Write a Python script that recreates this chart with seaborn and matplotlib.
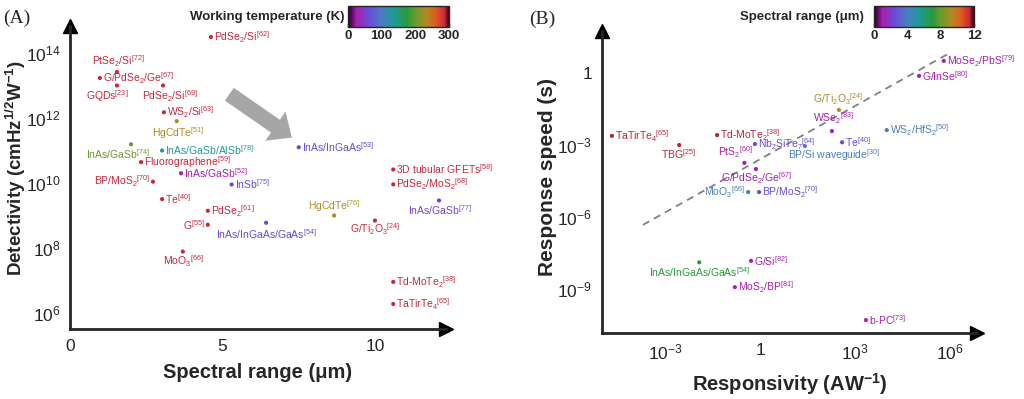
import matplotlib
matplotlib.use("Agg")
import numpy as np
import pandas as pd
import seaborn as sns
import matplotlib.pyplot as plt
from matplotlib.colors import LinearSegmentedColormap, Normalize
from matplotlib.cm import ScalarMappable
from matplotlib.ticker import FixedLocator, FuncFormatter, NullFormatter

# ---- (A) detectivity vs spectral range, colour = working temperature (K)
a_labels = [
    r"PdSe$_2$/Si$^{[62]}$", r"PtSe$_2$/Si$^{[72]}$", r"G/PdSe$_2$/Ge$^{[67]}$",
    r"GQDs$^{[23]}$", r"PdSe$_2$/Si$^{[69]}$", r"WS$_2$/Si$^{[63]}$",
    r"HgCdTe$^{[51]}$", r"InAs/GaSb$^{[74]}$", r"InAs/GaSb/AlSb$^{[78]}$",
    r"Fluorographene$^{[59]}$", r"InAs/GaSb$^{[52]}$", r"BP/MoS$_2$$^{[70]}$",
    r"InSb$^{[75]}$", r"Te$^{[40]}$", r"PdSe$_2$$^{[61]}$", r"G$^{[55]}$",
    r"InAs/InGaAs/GaAs$^{[54]}$", r"MoO$_3$$^{[66]}$", r"HgCdTe$^{[76]}$",
    r"G/Ti$_2$O$_3$$^{[24]}$", r"InAs/GaSb$^{[77]}$", r"3D tubular GFETs$^{[58]}$",
    r"PdSe$_2$/MoS$_2$$^{[68]}$", r"InAs/InGaAs$^{[53]}$", r"Td-MoTe$_2$$^{[38]}$",
    r"TaTirTe$_4$$^{[65]}$",
]
a_spectral = [4.62, 1.54, 0.98, 1.54, 3.05, 3.08, 3.5, 2.0, 3.02, 2.33, 3.64, 2.72,
              5.3, 3.02, 4.52, 4.52, 6.43, 3.7, 8.66, 10.0, 12.1, 10.6, 10.6, 7.5,
              10.6, 10.6]
a_detectivity = [3.1e14, 2.6e13, 1.7e13, 1.0e13, 1.0e13, 1.5e12, 8.0e11, 1.55e11,
                 1.0e11, 4.4e10, 2.0e10, 1.1e10, 9.0e9, 3.2e9, 1.4e9, 5.2e8, 6.0e8,
                 7.8e7, 1.0e9, 7.0e8, 2.9e9, 2.6e10, 9.1e9, 1.26e11, 9.1e6, 1.9e6]
a_temperature = [287, 287, 287, 287, 287, 287, 232, 200, 135, 287, 25, 287, 60, 287,
                 287, 287, 60, 287, 232, 287, 55, 287, 287, 60, 287, 287]

# ---- (B) response speed vs responsivity, colour = spectral range (um)
b_labels = [
    r"TaTirTe$_4$$^{[65]}$", r"TBG$^{[25]}$", r"Td-MoTe$_2$$^{[38]}$", r"PtS$_2$$^{[60]}$",
    r"Nb$_2$SiTe$_7$$^{[64]}$", r"G/PdSe$_2$/Ge$^{[67]}$", r"MoO$_3$$^{[66]}$",
    r"BP/MoS$_2$$^{[70]}$", r"BP/Si waveguide$^{[30]}$", r"Te$^{[40]}$", r"WSe$_2$$^{[83]}$",
    r"G/Ti$_2$O$_3$$^{[24]}$", r"WS$_2$/HfS$_2$$^{[50]}$", r"G/InSe$^{[80]}$",
    r"MoSe$_2$/PbS$^{[79]}$", r"InAs/InGaAs/GaAs$^{[54]}$", r"G/Si$^{[82]}$",
    r"MoS$_2$/BP$^{[81]}$", r"b-PC$^{[73]}$",
]
b_responsivity = [2.1e-5, 2.8e-3, 4.4e-2, 0.32, 0.69, 0.74, 0.42, 0.93, 26, 390, 186,
                  310, 1.0e4, 1.05e5, 6.3e5, 1.2e-2, 0.52, 0.16, 2.2e3]
b_speed = [2.4e-3, 1.0e-3, 2.6e-3, 1.8e-4, 1.1e-3, 1.0e-4, 1.1e-5, 1.1e-5, 9.1e-4,
           1.3e-3, 3.8e-3, 2.9e-2, 4.2e-3, 0.76, 3.2, 1.3e-8, 1.5e-8, 1.2e-9, 5.1e-11]
b_spectral = [11.5, 11.5, 11.5, 1.0, 2.4, 1.0, 4.0, 2.4, 4.0, 2.4, 1.0, 9.3, 4.0, 1.0,
              1.0, 7.0, 1.0, 1.0, 1.0]

trend_resp = [2.0e-4, 1.1e6]
trend_speed = [4.7e-7, 7.5]

# label placement (pixel offset from the dot, horizontal alignment)
R, L = (3, 0, "left"), (-3, 0, "right")
a_place = [R, (1, 11, "center"), R, (-10, -11, "center"), (7, -11, "center"), R,
           (1, -12, "center"), (-13, -10, "center"), R, R, R, L, R, R, R, L,
           (0, -11, "center"), (1, -10, "center"), (0, 9, "center"),
           (0, -9, "center"), (1, -10, "center"), R, R, R, R, R]
b_place = [R, (-1, -9, "center"), R, (-9, 11, "center"), R, (1, -9, "center"), L, R,
           (29, -9, "center"), R, (1, 13, "center"), (-1, 11, "center"), R, R, R,
           (0, -10, "center"), R, R, R]

sns.set_style("white")
plt.rcParams["font.family"] = ["Liberation Sans", "DejaVu Sans"]
plt.rcParams["mathtext.default"] = "regular"

cmap = LinearSegmentedColormap.from_list("origin_rainbow", [
    (0.0, "#20002a"), (0.083, "#a81fb0"), (0.2, "#6a4ad8"), (0.333, "#4a7ec0"),
    (0.45, "#1e9a9a"), (0.583, "#2a9a3a"), (0.667, "#6a9a30"), (0.775, "#b08a22"),
    (0.87, "#e05a20"), (0.957, "#c8283c"), (1.0, "#3a0010")])
norm_t = Normalize(0, 300)
norm_s = Normalize(0, 12)

fig = plt.figure(figsize=(10.24, 3.99), dpi=100)
ax1 = fig.add_axes([70 / 1024, 1 - 329 / 399, 376 / 1024, 303 / 399])
ax2 = fig.add_axes([602 / 1024, 1 - 333 / 399, 375 / 1024, 302 / 399])

df_a = pd.DataFrame({"x": a_spectral, "y": a_detectivity, "T": a_temperature})
df_b = pd.DataFrame({"x": b_responsivity, "y": b_speed, "S": b_spectral})

ax1.set_yscale("log")
ax2.set_xscale("log")
ax2.set_yscale("log")

sns.scatterplot(data=df_a, x="x", y="y", hue="T", palette=cmap, hue_norm=norm_t,
                s=9, linewidth=0, legend=False, ax=ax1)
sns.scatterplot(data=df_b, x="x", y="y", hue="S", palette=cmap, hue_norm=norm_s,
                s=9, linewidth=0, legend=False, ax=ax2)
ax2.plot(trend_resp, trend_speed, color="#808080", lw=1.3, ls=(0, (4, 3)))

for name, x, y, v, (dx, dy, ha) in zip(a_labels, a_spectral, a_detectivity, a_temperature, a_place):
    ax1.annotate(name, (x, y), xytext=(dx, dy), textcoords="offset pixels", ha=ha,
                 va="center", fontsize=7.5, color=cmap(norm_t(v)))
for name, x, y, v, (dx, dy, ha) in zip(b_labels, b_responsivity, b_speed, b_spectral, b_place):
    ax2.annotate(name, (x, y), xytext=(dx, dy), textcoords="offset pixels", ha=ha,
                 va="center", fontsize=7.5, color=cmap(norm_s(v)))

# big grey arrow in (A)
ax1.annotate("", xy=(7.35, 10**11.35), xytext=(5.15, 10**12.78),
             arrowprops=dict(arrowstyle="simple,head_length=0.9,head_width=1.6,tail_width=0.7",
                             mutation_scale=16, color="#a6a6a6", lw=0))

ax1.set_xlim(0, 12.33)
ax1.set_ylim(10**5.51, 10**14.83)
ax1.xaxis.set_major_locator(FixedLocator([0, 5, 10]))
ax1.xaxis.set_minor_locator(FixedLocator([2.5, 7.5]))
ax1.yaxis.set_major_locator(FixedLocator([1e6, 1e8, 1e10, 1e12, 1e14]))
ax1.yaxis.set_minor_locator(FixedLocator([1e7, 1e9, 1e11, 1e13]))
ax1.yaxis.set_major_formatter(FuncFormatter(lambda v, p: r"$10^{%d}$" % round(np.log10(v))))

ax2.set_xlim(10**-4.99, 10**6.85)
ax2.set_ylim(10**-10.83, 10**1.75)
ax2.xaxis.set_major_locator(FixedLocator([1e-3, 1, 1e3, 1e6]))
ax2.xaxis.set_minor_locator(FixedLocator([10**-4.5, 10**-1.5, 10**1.5, 10**4.5]))
ax2.yaxis.set_major_locator(FixedLocator([1e-9, 1e-6, 1e-3, 1]))
ax2.yaxis.set_minor_locator(FixedLocator([10.0**k for k in range(-10, 2) if k % 3]))
fmt = FuncFormatter(lambda v, p: "1" if round(np.log10(v)) == 0 else r"$10^{%d}$" % round(np.log10(v)))
ax2.xaxis.set_major_formatter(fmt)
ax2.yaxis.set_major_formatter(fmt)
for ax in (ax1, ax2):
    ax.xaxis.set_minor_formatter(NullFormatter())
    ax.yaxis.set_minor_formatter(NullFormatter())

ax1.set_xlabel("Spectral range (μm)", fontsize=14.5, fontweight="bold", labelpad=7)
ax1.set_ylabel(r"Detectivity (cmHz$^{1/2}$W$^{-1}$)", fontsize=13.5, fontweight="bold")
ax2.set_xlabel(r"Responsivity (AW$^{-1}$)", fontsize=14.5, fontweight="bold", labelpad=6)
ax2.set_ylabel("Response speed (s)", fontsize=15, fontweight="bold")
ax1.yaxis.set_label_coords(-0.113, 0.53)
ax2.yaxis.set_label_coords(-0.12, 0.515)

for ax in (ax1, ax2):
    sns.despine(ax=ax)
    for side in ("left", "bottom"):
        ax.spines[side].set_linewidth(2)
    ax.tick_params(which="both", direction="out", width=1.5, labelsize=12.5, pad=3)
    ax.tick_params(which="major", length=4)
    ax.tick_params(which="minor", length=3)
    ax.plot(1, 0, ">k", ms=10, transform=ax.transAxes, clip_on=False)
    ax.plot(0, 1, "^k", ms=10, transform=ax.transAxes, clip_on=False)

# colour bars
cax1 = fig.add_axes([348 / 1024, 1 - 27 / 399, 101 / 1024, 21 / 399])
cb1 = fig.colorbar(ScalarMappable(norm=norm_t, cmap=cmap), cax=cax1, orientation="horizontal")
cb1.set_ticks([0, 100, 200, 300])
cax1.xaxis.set_minor_locator(FixedLocator([50, 150, 250]))
cax2 = fig.add_axes([874 / 1024, 1 - 27 / 399, 100 / 1024, 21 / 399])
cb2 = fig.colorbar(ScalarMappable(norm=norm_s, cmap=cmap), cax=cax2, orientation="horizontal")
cb2.set_ticks([0, 4, 8, 12])
cax2.xaxis.set_minor_locator(FixedLocator([2, 6, 10]))
for cb in (cb1, cb2):
    cb.outline.set_linewidth(1)
    cb.ax.tick_params(which="both", direction="in", length=3, width=1, labelsize=9.5, pad=2)
    for t in cb.ax.get_xticklabels():
        t.set_fontweight("bold")

fig.text(345 / 1024, 1 - 17 / 399, "Working temperature (K)", ha="right", va="center",
         fontsize=9.5, fontweight="bold")
fig.text(864 / 1024, 1 - 17 / 399, "Spectral range (μm)", ha="right", va="center",
         fontsize=9.5, fontweight="bold")
fig.text(3 / 1024, 1 - 18 / 399, "(A)", ha="left", va="center", fontsize=14,
         family="Liberation Serif")
fig.text(529 / 1024, 1 - 19 / 399, "(B)", ha="left", va="center", fontsize=14,
         family="Liberation Serif")

fig.savefig("out.png", dpi=100)
